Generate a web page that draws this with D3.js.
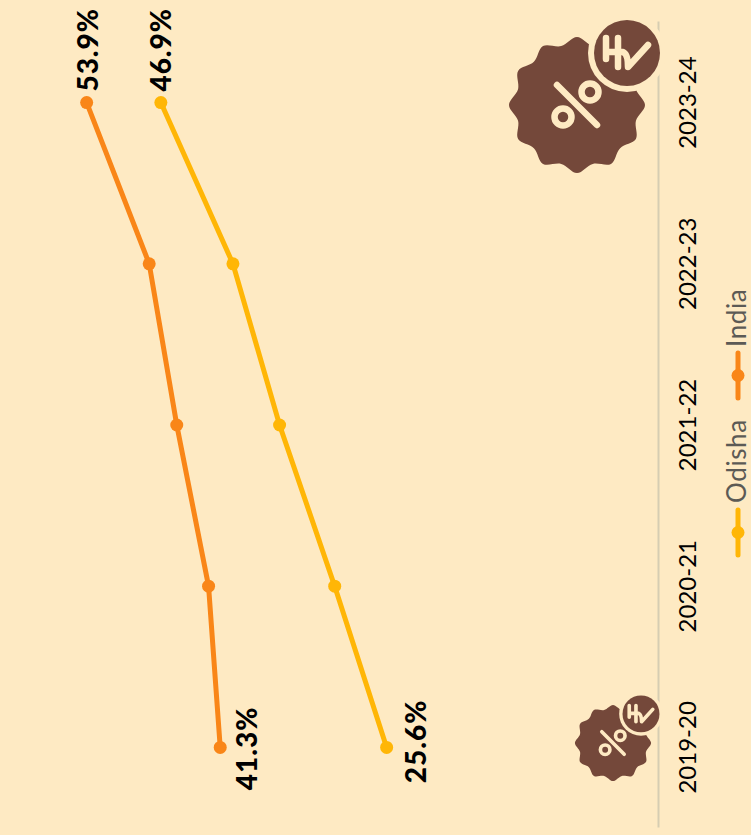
<!DOCTYPE html>
<html>
<head>
<meta charset="utf-8">
<script src="https://cdn.jsdelivr.net/npm/d3@7"></script>
<style>
    html, body { margin: 0; padding: 0; background: #feeac3; }
    svg { display: block; }
    text { font-family: Lato, "Open Sans", sans-serif; }
</style>
</head>
<body>
<div id="chart"></div>
<script>
const years = ['2019-20', '2020-21', '2021-22', '2022-23', '2023-24'];
const odisha = [25.6, 30.5, 35.7, 40.1, 46.9];
const india = [41.3, 42.4, 45.4, 48.0, 53.9];
const seriesNames = ['Odisha', 'India'];
const seriesColors = ['#ffb606', '#f98618'];

const width = 751;
const height = 835;
const brown = '#74483a';
const cream = '#feeac3';

const svg = d3.select('#chart').append('svg')
    .attr('width', width)
    .attr('height', height);

// The whole chart is turned a quarter turn, so x runs up the page and y runs leftwards
const g = svg.append('g')
    .attr('transform', `translate(0,${height}) rotate(-90)`);

const x = d3.scaleBand().domain(years).range([7, 813]);
const y = d3.scaleLinear().domain([0, 54]).range([658, 85.6]);
const cx = d => x(d) + x.bandwidth() / 2;

// Axis
const axis = g.append('g')
    .attr('transform', `translate(0,${y(0)})`)
    .call(d3.axisBottom(x).tickSize(0).tickPadding(21));
axis.select('.domain').attr('stroke', '#d6cdb2').attr('stroke-width', 2);
axis.selectAll('.tick text')
    .attr('fill', '#000')
    .style('font-size', '24px')
    .style('font-family', 'Lato, sans-serif');

// Lines and points
const line = d3.line().x((d, i) => cx(years[i])).y(d => y(d));
[odisha, india].forEach((values, s) => {
    g.append('path')
        .attr('d', line(values))
        .attr('fill', 'none')
        .attr('stroke', seriesColors[s])
        .attr('stroke-width', 5);
    g.selectAll(null)
        .data(values)
        .enter()
        .append('circle')
        .attr('cx', (d, i) => cx(years[i]))
        .attr('cy', d => y(d))
        .attr('r', 6.5)
        .attr('fill', seriesColors[s]);
});

// End labels: first year sits under the point, last year to the right of it
[odisha, india].forEach((values, s) => {
    const last = values.length - 1;
    g.append('text')
        .attr('x', cx(years[0]) + (s === 0 ? 6 : -1))
        .attr('y', y(values[0]) + (s === 0 ? 39 : 37))
        .attr('text-anchor', 'middle')
        .style('font-size', '28px')
        .style('font-weight', 900)
        .style('letter-spacing', '1px')
        .text(values[0].toFixed(1) + '%');
    g.append('text')
        .attr('x', cx(years[last]) + 11)
        .attr('y', y(values[last]) + (s === 0 ? 10 : 11))
        .attr('text-anchor', 'start')
        .style('font-size', '28px')
        .style('font-weight', 900)
        .style('letter-spacing', '1px')
        .text(values[last].toFixed(1) + '%');
});

// Legend
const legendStart = [280, 437];
const legendText = [332, 488];
const legendY = 738;
seriesNames.forEach((name, i) => {
    g.append('line')
        .attr('x1', legendStart[i]).attr('x2', legendStart[i] + 45)
        .attr('y1', legendY).attr('y2', legendY)
        .attr('stroke', seriesColors[i])
        .attr('stroke-width', 5)
        .attr('stroke-linecap', 'round');
    g.append('circle')
        .attr('cx', legendStart[i] + 22.5).attr('cy', legendY)
        .attr('r', 6.5)
        .attr('fill', seriesColors[i]);
    g.append('text')
        .attr('x', legendText[i]).attr('y', 745.5)
        .attr('fill', '#5c5a55')
        .style('font-size', '26px')
        .style('letter-spacing', '0.6px')
        .text(name);
});

// Badge icon, drawn in page coordinates
const badgeRadial = d3.lineRadial()
    .angle((d, i) => i * Math.PI / 12)
    .radius(d => d)
    .curve(d3.curveCardinalClosed.tension(0));
const badgeRadii = d3.range(24).map(i => i % 2 ? 61 : 68);

function drawBadge(tx, ty, k) {
    const icon = svg.append('g').attr('transform', `translate(${tx},${ty}) scale(${k})`);
    icon.append('path').attr('d', badgeRadial(badgeRadii)).attr('fill', brown);
    icon.append('line')
        .attr('x1', -20).attr('y1', -20).attr('x2', 20).attr('y2', 20)
        .attr('stroke', cream).attr('stroke-width', 6.5).attr('stroke-linecap', 'round');
    [[13, -13], [-14, 12]].forEach(p => {
        icon.append('circle')
            .attr('cx', p[0]).attr('cy', p[1]).attr('r', 8.5)
            .attr('fill', brown).attr('stroke', cream).attr('stroke-width', 6.5);
    });
    const coin = icon.append('g').attr('transform', 'translate(50,-52)');
    coin.append('circle').attr('r', 39).attr('fill', cream);
    coin.append('circle').attr('r', 33).attr('fill', brown);
    coin.append('path')
        .attr('d', 'M-21,6V-15M-9,-15V14M-21,-1H-4Q1,1 1,14L21,-8')
        .attr('fill', 'none')
        .attr('stroke', cream).attr('stroke-width', 6.5).attr('stroke-linecap', 'round').attr('stroke-linejoin', 'round');
}
drawBadge(577, 105, 1);
drawBadge(613, 743, 0.56);
</script>
</body>
</html>
